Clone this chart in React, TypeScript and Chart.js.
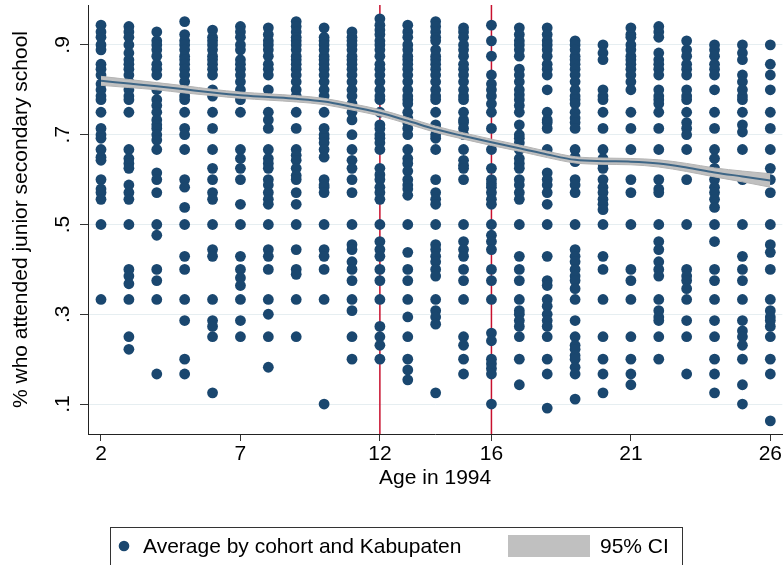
import { useEffect, useRef } from 'react';
import { Chart, registerables } from 'chart.js';

Chart.register(...registerables);

// ---- data ----
const ages = [2, 3, 4, 5, 6, 7, 8, 9, 10, 11, 12, 13, 14, 15, 16, 17, 18, 19, 20, 21, 22, 23, 24, 25, 26];

// share attending junior secondary school, one list per age (cohort x Kabupaten averages)
const cohortShares: number[][] = [
  [0.944, 0.929, 0.917, 0.9, 0.889, 0.857, 0.846, 0.833, 0.813, 0.8, 0.786, 0.778, 0.75, 0.714, 0.7, 0.692, 0.667, 0.65, 0.643, 0.6, 0.579, 0.571, 0.556, 0.5, 0.333],
  [0.941, 0.929, 0.917, 0.9, 0.882, 0.867, 0.857, 0.846, 0.833, 0.818, 0.8, 0.786, 0.778, 0.75, 0.667, 0.647, 0.636, 0.625, 0.588, 0.571, 0.556, 0.5, 0.4, 0.385, 0.368, 0.333, 0.25, 0.222],
  [0.929, 0.909, 0.9, 0.889, 0.875, 0.857, 0.846, 0.833, 0.8, 0.778, 0.765, 0.75, 0.733, 0.722, 0.714, 0.7, 0.688, 0.667, 0.615, 0.6, 0.571, 0.5, 0.476, 0.4, 0.375, 0.333, 0.167],
  [0.952, 0.923, 0.909, 0.9, 0.889, 0.875, 0.867, 0.857, 0.846, 0.833, 0.818, 0.8, 0.786, 0.778, 0.75, 0.714, 0.7, 0.667, 0.6, 0.583, 0.538, 0.5, 0.429, 0.4, 0.333, 0.286, 0.2, 0.167],
  [0.933, 0.917, 0.909, 0.9, 0.889, 0.875, 0.867, 0.857, 0.846, 0.833, 0.8, 0.786, 0.75, 0.714, 0.667, 0.625, 0.6, 0.571, 0.556, 0.5, 0.444, 0.429, 0.333, 0.286, 0.273, 0.25, 0.125],
  [0.941, 0.929, 0.917, 0.9, 0.889, 0.867, 0.857, 0.846, 0.833, 0.818, 0.8, 0.786, 0.778, 0.75, 0.667, 0.647, 0.625, 0.6, 0.545, 0.5, 0.429, 0.4, 0.381, 0.364, 0.333, 0.286, 0.25],
  [0.938, 0.923, 0.909, 0.9, 0.889, 0.875, 0.857, 0.846, 0.833, 0.8, 0.75, 0.733, 0.714, 0.667, 0.647, 0.636, 0.625, 0.6, 0.588, 0.571, 0.556, 0.545, 0.5, 0.444, 0.429, 0.4, 0.333, 0.3, 0.25, 0.182],
  [0.952, 0.941, 0.929, 0.917, 0.909, 0.9, 0.889, 0.875, 0.867, 0.857, 0.846, 0.833, 0.818, 0.8, 0.786, 0.75, 0.714, 0.667, 0.654, 0.643, 0.625, 0.609, 0.6, 0.571, 0.545, 0.5, 0.444, 0.4, 0.389, 0.333, 0.25],
  [0.938, 0.917, 0.909, 0.9, 0.889, 0.875, 0.867, 0.857, 0.846, 0.833, 0.818, 0.8, 0.786, 0.75, 0.714, 0.7, 0.692, 0.682, 0.667, 0.65, 0.6, 0.588, 0.583, 0.571, 0.5, 0.444, 0.429, 0.4, 0.333, 0.1],
  [0.929, 0.917, 0.909, 0.9, 0.889, 0.875, 0.867, 0.857, 0.846, 0.833, 0.818, 0.8, 0.786, 0.769, 0.75, 0.733, 0.7, 0.667, 0.643, 0.625, 0.6, 0.571, 0.5, 0.455, 0.444, 0.417, 0.4, 0.375, 0.333, 0.308, 0.25, 0.2],
  [0.958, 0.944, 0.933, 0.923, 0.909, 0.9, 0.889, 0.875, 0.857, 0.846, 0.833, 0.818, 0.8, 0.786, 0.778, 0.75, 0.722, 0.714, 0.7, 0.692, 0.682, 0.667, 0.625, 0.611, 0.6, 0.583, 0.571, 0.556, 0.5, 0.462, 0.444, 0.429, 0.4, 0.375, 0.333, 0.273, 0.25, 0.231, 0.2],
  [0.944, 0.929, 0.917, 0.9, 0.889, 0.875, 0.867, 0.857, 0.846, 0.833, 0.818, 0.8, 0.786, 0.778, 0.769, 0.75, 0.737, 0.727, 0.714, 0.7, 0.667, 0.647, 0.636, 0.619, 0.6, 0.588, 0.579, 0.565, 0.5, 0.438, 0.4, 0.375, 0.333, 0.294, 0.25, 0.2, 0.176, 0.154],
  [0.952, 0.941, 0.929, 0.917, 0.909, 0.889, 0.875, 0.867, 0.857, 0.846, 0.833, 0.818, 0.8, 0.786, 0.778, 0.75, 0.722, 0.714, 0.7, 0.692, 0.667, 0.6, 0.571, 0.556, 0.545, 0.5, 0.455, 0.444, 0.429, 0.417, 0.4, 0.385, 0.333, 0.308, 0.294, 0.278, 0.125],
  [0.938, 0.929, 0.917, 0.9, 0.889, 0.875, 0.857, 0.846, 0.833, 0.818, 0.8, 0.786, 0.778, 0.75, 0.733, 0.727, 0.714, 0.7, 0.667, 0.643, 0.632, 0.625, 0.6, 0.5, 0.462, 0.444, 0.429, 0.4, 0.375, 0.333, 0.25, 0.231, 0.2, 0.167],
  [0.944, 0.909, 0.875, 0.833, 0.813, 0.8, 0.786, 0.769, 0.75, 0.714, 0.667, 0.625, 0.6, 0.591, 0.583, 0.571, 0.556, 0.545, 0.5, 0.476, 0.462, 0.444, 0.4, 0.375, 0.333, 0.258, 0.241, 0.2, 0.19, 0.179, 0.167, 0.1],
  [0.938, 0.923, 0.909, 0.9, 0.889, 0.875, 0.846, 0.833, 0.818, 0.8, 0.789, 0.778, 0.765, 0.75, 0.722, 0.7, 0.692, 0.682, 0.667, 0.647, 0.636, 0.625, 0.6, 0.588, 0.571, 0.556, 0.5, 0.429, 0.4, 0.375, 0.333, 0.308, 0.3, 0.286, 0.273, 0.25, 0.2, 0.143],
  [0.938, 0.923, 0.909, 0.9, 0.889, 0.875, 0.857, 0.846, 0.833, 0.8, 0.75, 0.733, 0.727, 0.714, 0.667, 0.615, 0.6, 0.588, 0.571, 0.545, 0.5, 0.429, 0.375, 0.364, 0.333, 0.318, 0.3, 0.286, 0.273, 0.25, 0.2, 0.167, 0.091],
  [0.909, 0.9, 0.889, 0.875, 0.867, 0.857, 0.846, 0.833, 0.818, 0.8, 0.786, 0.778, 0.769, 0.75, 0.737, 0.727, 0.714, 0.667, 0.65, 0.64, 0.6, 0.588, 0.571, 0.5, 0.444, 0.429, 0.417, 0.4, 0.385, 0.375, 0.357, 0.333, 0.286, 0.25, 0.231, 0.222, 0.208, 0.2, 0.182, 0.167, 0.111],
  [0.9, 0.882, 0.867, 0.8, 0.786, 0.778, 0.75, 0.714, 0.667, 0.647, 0.636, 0.625, 0.6, 0.583, 0.571, 0.556, 0.545, 0.533, 0.5, 0.429, 0.4, 0.333, 0.25, 0.2, 0.167, 0.125],
  [0.938, 0.923, 0.917, 0.9, 0.889, 0.875, 0.867, 0.857, 0.846, 0.833, 0.818, 0.8, 0.75, 0.714, 0.667, 0.6, 0.571, 0.5, 0.4, 0.375, 0.333, 0.25, 0.2, 0.167, 0.143],
  [0.941, 0.929, 0.917, 0.882, 0.867, 0.857, 0.846, 0.833, 0.8, 0.786, 0.778, 0.769, 0.75, 0.714, 0.667, 0.6, 0.579, 0.571, 0.5, 0.462, 0.444, 0.417, 0.4, 0.385, 0.333, 0.308, 0.294, 0.286, 0.25, 0.2],
  [0.909, 0.889, 0.875, 0.857, 0.846, 0.833, 0.8, 0.786, 0.778, 0.75, 0.727, 0.714, 0.7, 0.667, 0.6, 0.5, 0.4, 0.385, 0.375, 0.357, 0.333, 0.286, 0.25, 0.167],
  [0.9, 0.889, 0.875, 0.857, 0.846, 0.833, 0.8, 0.75, 0.714, 0.667, 0.647, 0.625, 0.6, 0.583, 0.571, 0.556, 0.538, 0.5, 0.462, 0.4, 0.375, 0.333, 0.286, 0.25, 0.2, 0.167, 0.125],
  [0.9, 0.882, 0.867, 0.833, 0.818, 0.8, 0.786, 0.778, 0.75, 0.722, 0.706, 0.667, 0.6, 0.5, 0.429, 0.4, 0.375, 0.333, 0.286, 0.263, 0.25, 0.231, 0.2, 0.143, 0.1],
  [0.9, 0.857, 0.833, 0.8, 0.75, 0.714, 0.667, 0.625, 0.6, 0.571, 0.5, 0.455, 0.438, 0.4, 0.333, 0.308, 0.294, 0.286, 0.273, 0.25, 0.2, 0.167, 0.0625],
];

const fittedShare = [0.820, 0.814, 0.808, 0.801, 0.794, 0.788, 0.784, 0.780, 0.774, 0.762, 0.749, 0.731, 0.712, 0.697, 0.683, 0.670, 0.656, 0.644, 0.641, 0.640, 0.636, 0.627, 0.616, 0.607, 0.598];
const ciLower = [0.810, 0.805, 0.800, 0.793, 0.787, 0.781, 0.777, 0.773, 0.767, 0.755, 0.742, 0.724, 0.705, 0.690, 0.676, 0.663, 0.649, 0.637, 0.634, 0.633, 0.628, 0.618, 0.606, 0.595, 0.583];
const ciUpper = [0.830, 0.823, 0.816, 0.809, 0.801, 0.795, 0.791, 0.787, 0.781, 0.769, 0.756, 0.738, 0.719, 0.704, 0.690, 0.677, 0.663, 0.651, 0.648, 0.647, 0.644, 0.636, 0.626, 0.619, 0.613];

const refAges = [12, 16];
const xTickValues = [2, 7, 12, 16, 21, 26];
const yTickValues = [0.1, 0.3, 0.5, 0.7, 0.9];
const xTitle = 'Age in 1994';
const yTitle = '% who attended junior secondary school';
const legendLabels = ['Average by cohort and Kabupaten', '95% CI'];

// ---- styles ----
const FONT = "'Liberation Sans', Arial, Helvetica, sans-serif";
const DOT = '#1a476f';
const BAND = '#c0c0c0';
const LINE = '#3e6686';
const RED = '#c8102e';

export default function App() {
  const ref = useRef<HTMLCanvasElement | null>(null);

  useEffect(() => {
    if (!ref.current) return;
    const points = ages.flatMap((a, i) => cohortShares[i].map((v) => ({ x: a, y: v })));
    const toXY = (arr: number[]) => ages.map((a, i) => ({ x: a, y: arr[i] }));

    const refLinePlugin = {
      id: 'refLines',
      beforeDatasetsDraw(chart: any) {
        const { ctx, chartArea, scales } = chart;
        ctx.save();
        ctx.strokeStyle = RED;
        ctx.lineWidth = 1.5;
        refAges.forEach((a) => {
          const x = scales.x.getPixelForValue(a);
          ctx.beginPath();
          ctx.moveTo(x, chartArea.top);
          ctx.lineTo(x, chartArea.bottom);
          ctx.stroke();
        });
        ctx.restore();
      },
    };

    const yLabelPlugin = {
      id: 'yRotLabels',
      afterDraw(chart: any) {
        const { ctx, scales } = chart;
        ctx.save();
        ctx.fillStyle = '#000';
        ctx.font = `21px ${FONT}`;
        ctx.textAlign = 'center';
        ctx.textBaseline = 'middle';
        scales.y.ticks.forEach((t: any) => {
          const y = scales.y.getPixelForValue(t.value);
          ctx.save();
          ctx.translate(63, y);
          ctx.rotate(-Math.PI / 2);
          ctx.fillText(String(t.value).replace(/^0/, ''), 0, 0);
          ctx.restore();
        });
        ctx.restore();
      },
    };

    const legendPlugin = {
      id: 'stataLegend',
      afterDraw(chart: any) {
        const { ctx } = chart;
        ctx.save();
        ctx.strokeStyle = '#333';
        ctx.lineWidth = 1;
        ctx.strokeRect(110.5, 527.5, 572, 60);
        ctx.fillStyle = DOT;
        ctx.beginPath();
        ctx.arc(124, 546, 5.3, 0, Math.PI * 2);
        ctx.fill();
        ctx.fillStyle = BAND;
        ctx.fillRect(508, 535, 82, 22);
        ctx.fillStyle = '#000';
        ctx.font = `21px ${FONT}`;
        ctx.textAlign = 'left';
        ctx.textBaseline = 'middle';
        ctx.fillText(legendLabels[0], 143, 547);
        ctx.fillText(legendLabels[1], 600, 547);
        ctx.restore();
      },
    };

    const chart = new Chart(ref.current, {
      type: 'scatter',
      data: {
        datasets: [
          {
            type: 'scatter',
            label: legendLabels[0],
            data: points,
            backgroundColor: DOT,
            borderWidth: 0,
            pointRadius: 5.4,
            order: 3,
          } as any,
          {
            type: 'line',
            label: 'ci-low',
            data: toXY(ciLower),
            borderColor: '#b4b4b4',
            borderWidth: 1,
            pointRadius: 0,
            fill: false,
            cubicInterpolationMode: 'monotone',
            order: 2,
          },
          {
            type: 'line',
            label: legendLabels[1],
            data: toXY(ciUpper),
            borderColor: '#b4b4b4',
            borderWidth: 1,
            backgroundColor: BAND,
            pointRadius: 0,
            fill: '-1',
            cubicInterpolationMode: 'monotone',
            order: 2,
          },
          {
            type: 'line',
            label: 'fit',
            data: toXY(fittedShare),
            borderColor: LINE,
            borderWidth: 2,
            pointRadius: 0,
            fill: false,
            cubicInterpolationMode: 'monotone',
            order: 1,
          },
        ],
      },
      options: {
        animation: false,
        responsive: false,
        events: [],
        layout: { autoPadding: false, padding: { top: 5, right: 0, bottom: 70, left: 0 } },
        plugins: { legend: { display: false }, tooltip: { enabled: false } },
        scales: {
          x: {
            type: 'linear',
            min: 1.534,
            max: 26.43,
            afterBuildTicks: (s: any) => {
              s.ticks = xTickValues.map((v) => ({ value: v }));
            },
            afterFit: (s: any) => {
              s.height = 61;
            },
            ticks: {
              color: '#000',
              font: { family: FONT, size: 21 },
              padding: 1,
              maxRotation: 0,
              autoSkip: false,
              callback: (v: any) => String(v),
            },
            grid: { drawOnChartArea: false, drawTicks: true, tickLength: 7, tickColor: '#333' },
            border: { display: true, color: '#222', width: 1 },
            title: {
              display: true,
              text: xTitle,
              color: '#000',
              font: { family: FONT, size: 21 },
              padding: { top: 0, bottom: 4 },
            },
          },
          y: {
            type: 'linear',
            min: 0.0333,
            max: 0.9889,
            afterBuildTicks: (s: any) => {
              s.ticks = yTickValues.map((v) => ({ value: v }));
            },
            afterFit: (s: any) => {
              s.width = 88;
            },
            ticks: { display: false },
            grid: { color: '#e6eef1', lineWidth: 1, drawTicks: true, tickLength: 8, tickColor: '#333' },
            border: { display: true, color: '#222', width: 1 },
            title: {
              display: true,
              text: yTitle,
              color: '#000',
              font: { family: FONT, size: 21 },
              padding: { top: 9, bottom: 0 },
            },
          },
        },
      },
      plugins: [refLinePlugin, yLabelPlugin, legendPlugin],
    });
    return () => chart.destroy();
  }, []);

  return (
    <div style={{ position: 'absolute', left: 0, top: 0, width: 783, height: 565, background: '#fff' }}>
      <canvas ref={ref} width={783} height={565} />
    </div>
  );
}
